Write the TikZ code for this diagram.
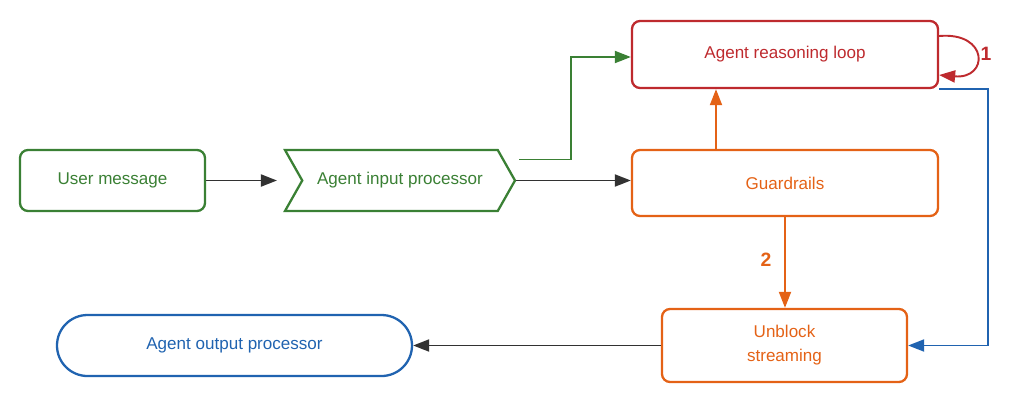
\documentclass[tikz,border=0pt]{standalone}
\usepackage{fontspec}
\setmainfont{Liberation Sans}
\usetikzlibrary{arrows.meta,shapes.symbols,shapes.misc}
\definecolor{flowgreen}{RGB}{58,128,52}
\definecolor{flowred}{RGB}{190,42,46}
\definecolor{floworange}{RGB}{228,98,22}
\definecolor{flowblue}{RGB}{32,99,176}
\definecolor{flowdark}{RGB}{50,50,50}

\begin{document}
\begin{tikzpicture}[
		base/.style={draw, line width=1.3pt, align=center,
			font=\fontsize{9.7}{13.7}\selectfont, inner sep=0pt},
		box/.style={base, rounded corners=0.16cm},
		arr/.style={line width=1.1pt, -{Triangle[length=0.32cm,width=0.24cm]}},
	]
		%%%%% START %%%%%
		\useasboundingbox (0,0) rectangle (20.48,-8.3);
		
		\node[box, draw=flowgreen, text=flowgreen, minimum width=3.7cm, minimum height=1.22cm]
			(user) at (2.25,-3.61) {User message};
		\node[base, draw=flowgreen, text=flowgreen, signal, signal from=west, signal to=east,
			signal pointer angle=121, minimum width=4.6cm, minimum height=1.22cm]
			(ain) at (8.0,-3.61) {Agent input processor};
		\node[box, draw=flowred, text=flowred, minimum width=6.12cm, minimum height=1.34cm]
			(loop) at (15.7,-1.09) {Agent reasoning loop};
		\node[box, draw=floworange, text=floworange, minimum width=6.12cm, minimum height=1.32cm]
			(guard) at (15.7,-3.66) {Guardrails};
		\node[box, draw=floworange, text=floworange, minimum width=4.9cm, minimum height=1.46cm]
			(unb) at (15.69,-6.91) {Unblock\\streaming};
		\node[base, rounded rectangle, draw=flowblue, text=flowblue, minimum width=7.1cm, minimum height=1.22cm]
			(aout) at (4.69,-6.91) {Agent output processor};
		
		\draw[arr, flowdark] (user.east) -- ([xshift=-0.48cm]user.east -| ain.west);
		\draw[arr, flowdark] (ain.east) -- (ain.east -| guard.west);
		\draw[arr, flowgreen] ([xshift=0.06cm,yshift=0.42cm]ain.east) -- ++(1.04,0) |- ([yshift=-0.05cm]loop.west);
		\draw[arr, floworange] ([xshift=-1.38cm]guard.north) -- ([xshift=-1.38cm]loop.south);
		
		\draw[arr, flowred] ([yshift=0.37cm]loop.east) to[out=5, in=-5, distance=1cm] ([yshift=-0.41cm]loop.east);
		\node[text=flowred, font=\fontsize{11}{13}\selectfont\bfseries] (one) at (19.72,-1.08) {1};
		
		\draw[arr, flowblue] (loop.south east) -- ++(0.98,0) |- (unb.east);
		\draw[arr, floworange] (guard.south) -- (guard.south |- unb.north);
		\node[text=floworange, font=\fontsize{11}{13}\selectfont\bfseries] (two) at (15.32,-5.2) {2};
		
		\draw[arr, flowdark] (unb.west) -- (aout.east);
		%%%%% END %%%%%
	\end{tikzpicture}
\end{document}
